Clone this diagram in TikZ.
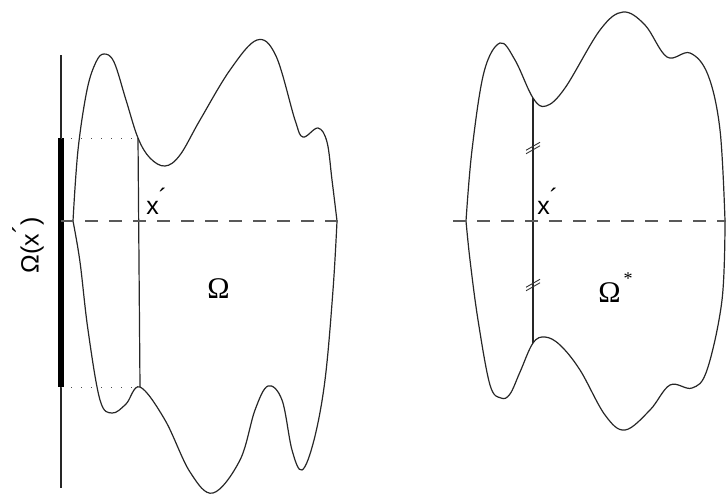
\documentclass[tikz,border=0pt]{standalone}
\usepackage{fontspec}
\setmainfont{Liberation Sans}
\newfontfamily\symf{Liberation Serif}
\usetikzlibrary{positioning,calc}

\begin{document}
\begin{tikzpicture}[x=0.5pt,y=-0.5pt,
every node/.style={inner sep=0pt,font=\fontsize{12.5}{14}\selectfont},
bdry/.style={black!85,line width=0.6pt},
cut/.style={black!65,line width=0.9pt,dash pattern=on 6.5pt off 5.5pt},
proj/.style={black!70,line width=0.5pt,dash pattern=on 0.5pt off 4.5pt},
hash/.style={black!80,line width=0.45pt}]
\useasboundingbox (0,0) rectangle (726,495);
\coordinate (At) at (61,55);
\coordinate (Ab) at (61,488);
\coordinate (Bt) at (61,138);
\coordinate (Bb) at (61,387);
\coordinate (Lt) at (138,138);
\coordinate (Lb) at (140,387);
\coordinate (Lw) at (61,221);
\coordinate (Le) at (345,221);
\coordinate (Rt) at (533,98);
\coordinate (Rb) at (533,343);
\coordinate (Rw) at (453,221);
\coordinate (Re) at (730,221);
\coordinate (H1) at (533,148);
\coordinate (H2) at (533,285);
\draw[bdry] plot[smooth,tension=0.6] coordinates {(73,221) (78,150) (87,90) (96,62) (104,54) (114,62) (126,100) (138,138) (150,158) (165,166) (180,155) (200,120) (230,70) (257,40) (276,56) (295,120) (303,137) (318,128) (327,142) (332,180) (337,221)};
\draw[bdry] plot[smooth,tension=0.6] coordinates {(337,221) (333,290) (325,380) (314,440) (302,470) (292,450) (282,400) (268,386) (255,410) (240,460) (213,493) (190,472) (165,420) (140,387) (126,404) (112,413) (100,400) (88,330) (80,262) (73,221)};
\draw[bdry] plot[smooth,tension=0.6] coordinates {(466,221) (472,150) (484,72) (500,43) (515,60) (533,98) (546,106) (565,88) (600,30) (623,12) (645,25) (667,57) (690,53) (708,75) (720,130) (725,221)};
\draw[bdry] plot[smooth,tension=0.6] coordinates {(725,221) (722,300) (707,370) (692,388) (670,385) (650,410) (625,430) (605,415) (580,370) (560,345) (545,337) (533,343) (520,372) (510,394) (501,398) (490,385) (478,320) (470,260) (466,221)};
\draw[bdry] (At) -- (Ab);
\draw[line width=2.6pt] (Bt) -- (Bb);
\draw[proj] (Bt) -- (Lt);
\draw[proj] (Bb) -- (Lb);
\draw[bdry] (Lt) -- (Lb);
\draw[cut] (Lw) -- (Le);
\draw[bdry] (Rt) -- (Rb);
\draw[cut] (Rw) -- (Re);
\foreach \h in {H1,H2}
  \draw[hash] ($(\h)+(-7,2.25)$) -- ++(14,-8) ($(\h)+(-7,5.75)$) -- ++(14,-8);
\node[anchor=base west] (xl) at (146,214) {x\raisebox{4pt}{´}};
\node[anchor=base west] (xr) at (537,214) {x\raisebox{4pt}{´}};
\node[anchor=base west] (oml) at (207,298) {\fontsize{15}{17}\selectfont\symf Ω};
\node[anchor=base west] (omr) at (598,302) {\fontsize{15}{17}\selectfont\symf Ω\kern1.5pt\raisebox{9pt}{\fontsize{9}{9}\selectfont *}};
\node[rotate=90] (omx) at (28,245) {Ω(x\raisebox{4pt}{´})};
\end{tikzpicture}
\end{document}
